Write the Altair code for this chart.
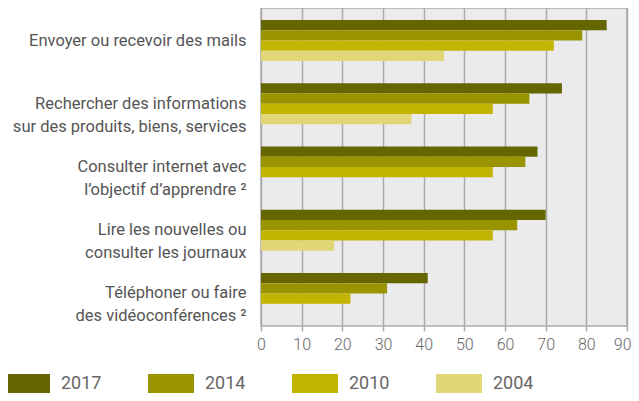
import altair as alt
import pandas as pd

categories = [
    "Envoyer ou recevoir des mails",
    "Rechercher des informations|sur des produits, biens, services",
    "Consulter internet avec|l’objectif d’apprendre ²",
    "Lire les nouvelles ou|consulter les journaux",
    "Téléphoner ou faire|des vidéoconférences ²",
]
years = ["2017", "2014", "2010", "2004"]
v2017 = [85, 74, 68, 70, 41]
v2014 = [79, 66, 65, 63, 31]
v2010 = [72, 57, 57, 57, 22]
v2004 = [45, 37, None, 18, None]
colors = ["#666600", "#999400", "#c2b400", "#e2d778"]
x_ticks = [0, 10, 20, 30, 40, 50, 60, 70, 80, 90]

rows = []
for yr, vals in zip(years, [v2017, v2014, v2010, v2004]):
    for c, v in zip(categories, vals):
        if v is not None:
            rows.append({"cat": c, "year": yr, "value": v})
df = pd.DataFrame(rows)

swatch = "M-1,-0.45 H1 V0.45 H-1 Z"

chart = alt.Chart(df).mark_bar().encode(
    x=alt.X("value:Q", scale=alt.Scale(domain=[0, 90], nice=False),
            axis=alt.Axis(values=x_ticks, title=None, grid=True, gridColor="#aaaaaa",
                          gridWidth=1.5, domain=False, tickColor="#aaaaaa", tickWidth=1.5,
                          tickSize=5, labelFontSize=16, labelColor="#666666",
                          labelFont="Roboto", labelFontWeight=300, labelPadding=5,
                          labelFlush=False,
                          labelAlign={"condition": {"test": "datum.value == 90", "value": "right"},
                                      "value": "center"},
                          labelOffset={"condition": {"test": "datum.value == 90", "value": 4},
                                       "value": 0})),
    y=alt.Y("cat:N", sort=categories,
            scale=alt.Scale(paddingInner=0.351, paddingOuter=0.19),
            axis=alt.Axis(title=None, ticks=False, domain=False, labelFontSize=16.5,
                          labelColor="#555555", labelFont="Roboto", labelFontWeight=400,
                          labelPadding=15, labelLimit=400, labelLineHeight=23,
                          labelExpr="split(datum.label, '|')")),
    yOffset=alt.YOffset("year:N", sort=years),
    color=alt.Color("year:N", sort=years,
                    scale=alt.Scale(domain=years, range=colors),
                    legend=alt.Legend(title=None, orient="none", direction="horizontal",
                                      legendX=-257, legendY=353, columns=4,
                                      symbolType=swatch, symbolSize=2116, symbolStrokeWidth=0,
                                      symbolOpacity=1, labelFontSize=18, labelColor="#666666",
                                      labelFont="Roboto", labelFontWeight=400,
                                      labelOffset=11, columnPadding=46)),
).properties(
    width=366, height=318,
    autosize=alt.AutoSizeParams(type="none"),
    padding={"left": 253, "top": 0, "right": 4, "bottom": 67},
).configure_view(
    fill="#ebebee", stroke="#aaaaaa", strokeWidth=1.5
)

chart.save("out.html", embed_options={"renderer": "svg", "actions": False})
